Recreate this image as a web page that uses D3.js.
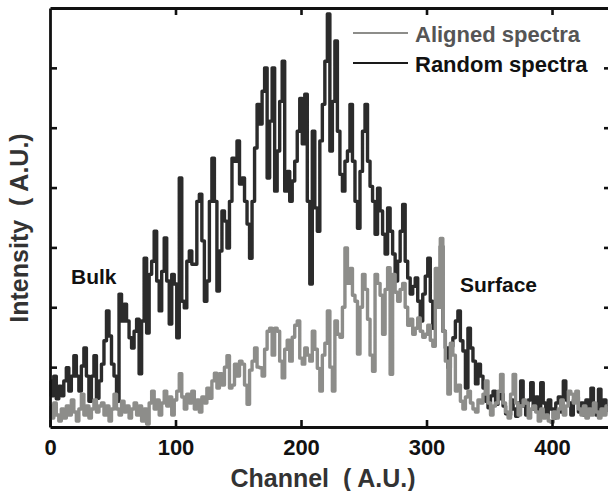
<!DOCTYPE html>
<html>
<head>
<meta charset="utf-8">
<script src="https://cdn.jsdelivr.net/npm/d3@7"></script>
<style>
  body { margin: 0; background: #fff; }
  svg { display: block; font-family: "Liberation Sans", Arial, sans-serif; }
</style>
</head>
<body>
<div id="chart"></div>
<script>
var W = 608, H = 491, xTicks, yTicks, step, random, aligned, svg, x, y, line, frame, lineOf, legend;

// one value every 2 channels, starting at channel 0
step = 2;

xTicks = [0, 100, 200, 300, 400];
yTicks = [100, 200, 300, 400, 500, 600];

random = [
  77, 52, 85, 47, 68, 52, 77, 99, 60, 85,
  119, 85, 60, 102, 132, 85, 43, 85, 119, 48,
  77, 105, 144, 194, 152, 105, 85, 43, 222, 177,
  205, 177, 149, 132, 160, 180, 89, 177, 282, 157,
  255, 277, 327, 244, 194, 260, 316, 244, 172, 255,
  239, 149, 416, 210, 199, 277, 294, 272, 272, 377,
  389, 311, 210, 244, 377, 449, 377, 227, 294, 361,
  344, 299, 377, 449, 444, 478, 406, 416, 377, 339,
  282, 377, 466, 539, 506, 561, 600, 416, 511, 600,
  394, 461, 544, 611, 394, 427, 377, 411, 444, 494,
  549, 473, 556, 377, 239, 494, 366, 327, 478, 539,
  611, 690, 461, 544, 645, 494, 422, 394, 444, 461,
  539, 444, 377, 332, 427, 494, 539, 444, 402, 377,
  322, 399, 361, 322, 289, 366, 327, 289, 244, 277,
  327, 372, 277, 249, 222, 235, 249, 210, 177, 222,
  252, 282, 210, 165, 210, 244, 302, 160, 132, 99,
  135, 149, 177, 194, 144, 127, 65, 165, 132, 110,
  72, 105, 85, 65, 43, 32, 52, 60, 38, 47,
  55, 35, 22, 20, 45, 30, 18, 40, 77, 35,
  20, 45, 74, 30, 50, 25, 74, 40, 20, 45,
  30, 15, 40, 50, 25, 77, 45, 40, 20, 45,
  50, 25, 40, 20, 45, 30, 65, 35, 20, 63,
  30, 45, 25
];

aligned = [
  35, 15, 40, 20, 10, 30, 15, 35, 20, 45,
  25, 10, 30, 55, 20, 35, 15, 30, 45, 25,
  35, 40, 20, 35, 10, 30, 55, 30, 20, 43,
  25, 35, 15, 30, 40, 20, 35, 10, 30, 5,
  40, 60, 30, 45, 20, 40, 60, 35, 50, 20,
  45, 60, 89, 50, 30, 55, 40, 60, 30, 45,
  25, 50, 40, 65, 48, 77, 90, 65, 89, 70,
  100, 119, 65, 70, 105, 85, 110, 105, 70, 38,
  95, 110, 132, 100, 99, 85, 130, 160, 165, 120,
  165, 160, 110, 82, 130, 145, 110, 150, 170, 177,
  115, 105, 132, 120, 110, 160, 130, 98, 60, 120,
  140, 194, 100, 60, 177, 155, 150, 200, 299, 240,
  265, 220, 210, 122, 200, 255, 230, 180, 120, 93,
  255, 240, 220, 155, 230, 266, 88, 255, 225, 210,
  230, 240, 200, 170, 180, 155, 165, 182, 160, 150,
  155, 170, 145, 135, 265, 200, 315, 160, 110, 55,
  140, 120, 60, 70, 43, 30, 50, 60, 40, 30,
  25, 45, 40, 55, 77, 40, 20, 35, 40, 60,
  88, 40, 25, 15, 55, 88, 40, 20, 35, 45,
  40, 15, 30, 35, 25, 10, 30, 15, 20, 10,
  8, 25, 15, 30, 45, 20, 35, 60, 55, 40,
  60, 30, 20, 35, 15, 30, 20, 40, 25, 15,
  30, 20, 35
];

svg = d3.select("#chart").append("svg").attr("width", W).attr("height", H);

// the plot runs past the right edge of the picture
x = d3.scaleLinear().domain([0, 447]).range([50, 611]);
y = d3.scaleLinear().domain([0, 700]).range([427, 8]);

line = d3.line().curve(d3.curveStep).x(function(d, i) {
  return x(i * step);
}).y(function(d) {
  return y(d);
});

svg.append("path").datum(random).attr("d", line).attr("fill", "none").attr("stroke", "#2b2b2b").attr("stroke-width", 3.4).attr("stroke-linejoin", "round");
svg.append("path").datum(aligned).attr("d", line).attr("fill", "none").attr("stroke", "#8d8d8a").attr("stroke-width", 3.4).attr("stroke-linejoin", "round");

// frame with inward ticks on all four sides
frame = svg.append("g");
frame.append("g").attr("transform", "translate(0," + y(0) + ")").call(d3.axisBottom(x).tickValues(xTicks).tickSizeInner(-7).tickSizeOuter(0).tickPadding(12).tickFormat(d3.format("d")));
frame.append("g").attr("transform", "translate(0," + y(700) + ")").call(d3.axisTop(x).tickValues(xTicks.slice(1)).tickSizeInner(-7).tickSizeOuter(0).tickFormat(""));
frame.append("g").attr("transform", "translate(" + x(0) + ",0)").call(d3.axisLeft(y).tickValues(yTicks).tickSizeInner(-7).tickSizeOuter(0).tickFormat(""));
frame.append("g").attr("transform", "translate(" + x(447) + ",0)").call(d3.axisRight(y).tickValues(yTicks).tickSizeInner(-7).tickSizeOuter(0).tickFormat(""));
frame.selectAll(".domain").attr("stroke", "#111").attr("stroke-width", 2.8);
frame.selectAll(".tick line").attr("stroke", "#111").attr("stroke-width", 2.6);
frame.selectAll(".tick text").attr("font-size", 22).attr("font-weight", "bold").attr("fill", "#111").attr("font-family", "Liberation Sans, Arial, sans-serif");

svg.append("text").text("Channel  ( A.U.)").attr("x", 323).attr("y", 487).attr("text-anchor", "middle").attr("font-size", 25).attr("font-weight", "bold").attr("fill", "#333").style("white-space", "pre");
svg.append("text").text("Intensity  ( A.U.)").attr("transform", "translate(28,228) rotate(-90)").attr("text-anchor", "middle").attr("font-size", 25).attr("font-weight", "bold").attr("fill", "#333").style("white-space", "pre");

svg.append("text").text("Bulk").attr("x", 71).attr("y", 284).attr("font-size", 21).attr("font-weight", "bold").attr("fill", "#111");
svg.append("text").text("Surface").attr("x", 460).attr("y", 292).attr("font-size", 21).attr("font-weight", "bold").attr("fill", "#111");

lineOf = [
  { label: "Aligned spectra", stroke: "#8d8d8a", text: "#555", y: 33 },
  { label: "Random spectra", stroke: "#1a1a1a", text: "#111", y: 63 }
];

legend = svg.append("g").selectAll("g").data(lineOf).enter().append("g");
legend.append("line").attr("x1", 353).attr("x2", 408).attr("y1", function(d) {
  return d.y;
}).attr("y2", function(d) {
  return d.y;
}).attr("stroke", function(d) {
  return d.stroke;
}).attr("stroke-width", 2.2);
legend.append("text").text(function(d) {
  return d.label;
}).attr("x", 415).attr("y", function(d) {
  return d.y + 9;
}).attr("font-size", 22).attr("font-weight", "bold").attr("fill", function(d) {
  return d.text;
});
</script>
</body>
</html>
